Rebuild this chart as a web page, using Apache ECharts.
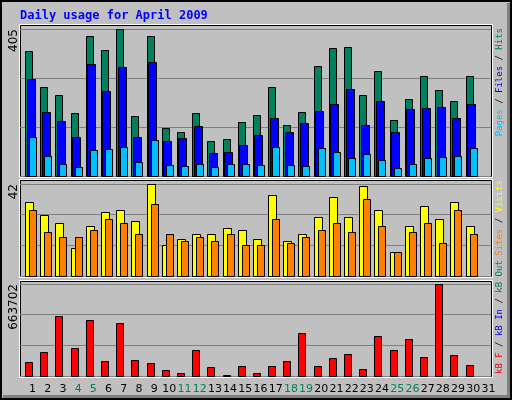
<!DOCTYPE html>
<html><head><meta charset="utf-8">
<script src="https://cdn.jsdelivr.net/npm/echarts@6/dist/echarts.min.js"></script>
<style>html,body{margin:0;padding:0;background:#C0C0C0}#c{width:512px;height:400px}</style>
</head><body><div id="c"></div>
<script>
const days = Array.from({length:31},(_,i)=>String(i+1));
const weekendDays = ['4','5','11','12','18','19','25','26'];
const hits  = [344,245,223,173,387,347,405,165,387,132,121,173,96,101,148,168,245,140,176,303,353,355,223,289,154,212,275,237,206,275,0];
const files = [267,176,151,107,308,234,300,107,314,96,104,137,63,65,85,112,159,121,145,179,198,239,140,206,121,184,187,190,159,198,0];
const pages = [107,54,32,24,71,74,79,38,98,29,27,32,24,32,32,29,79,29,27,76,65,49,60,43,21,32,49,52,54,76,0];
const visits= [34,28,24,13,23,29,30,25,42,14,17,19,19,22,21,17,37,16,19,27,36,27,41,30,11,23,32,26,34,23,0];
const sites = [30,20,18,18,21,26,24,19,33,19,16,18,16,19,14,14,26,15,18,21,24,20,35,23,11,20,24,15,30,19,0];
const kbF   = [104000,170000,431000,199000,402000,111000,380000,119000,97000,46000,24000,184000,68000,10000,75000,24000,75000,111000,308000,75000,133000,162000,53000,286000,191000,264000,140000,663702,155000,82000,0];
const maxTop=405, maxMid=42, maxBot=663702;

const chart = echarts.init(document.getElementById('c'));
function barSeries(idx,data,color,off,w,z){
  return {type:'custom',xAxisIndex:idx,yAxisIndex:idx,z:z,data:data.map((v,i)=>[i,v]),
    renderItem:(p,api)=>{
      const v=api.value(1); if(!v) return;
      const top=api.coord([api.value(0),v]), base=api.coord([api.value(0),0]);
      const sw=api.size([1,0])[0]; const x0=top[0]-sw/2;
      return {type:'rect',shape:{x:Math.round(x0+off)+0.5,y:Math.round(top[1])+0.5,width:w,height:Math.round(base[1])-Math.round(top[1])},
        style:{fill:color,stroke:'#000',lineWidth:1}};
    }};
}
const grids=[{left:20,right:21,top:29,height:147},{left:20,right:21,top:184,height:92},{left:20,right:21,top:284,height:92}];
const maxes=[maxTop,maxMid,maxBot];
const xAxes=grids.map((g,i)=>({type:'category',gridIndex:i,data:days,boundaryGap:true,
  axisLine:{show:false},axisTick:{show:false},
  axisLabel:i===2?{show:true,interval:0,margin:8,padding:[0,0,0,10],fontFamily:'DejaVu Sans',fontSize:11,
    color:(v)=>weekendDays.includes(v)?'#00805C':'#000'}:{show:false}}));
const yAxes=grids.map((g,i)=>({type:'value',gridIndex:i,min:0,max:maxes[i],interval:maxes[i]/3,
  axisLabel:{show:false},axisLine:{show:false},axisTick:{show:false},
  splitLine:{show:true,lineStyle:{color:'#808080',width:1}}}));
function vtext(x,y,align,parts){
  return {type:'text',x:x,y:y,rotation:Math.PI/2,
    style:{text:parts.map(p=>'{'+p[1]+'|'+p[0]+'}').join(''),align:align,verticalAlign:'middle',
      rich:{r:{fill:'#FF0000'},b:{fill:'#0000FF'},g:{fill:'#00805C'},o:{fill:'#FF8000'},y:{fill:'#FFFF00'},c:{fill:'#00C0FF'},k:{fill:'#000'}},
      font:'9px "DejaVu Sans Mono"'}};
}
function panel(y,h){
  return [{type:'rect',shape:{x:20.5,y:y+0.5,width:471,height:h},style:{fill:'none',stroke:'#000'},z:-1},
          {type:'polyline',shape:{points:[[19.5,y+h+1.5],[19.5,y-0.5],[492.5,y-0.5],[492.5,y+h+1.5],[19.5,y+h+1.5]]},style:{fill:'none',stroke:'#fff'},z:-1}];
}
chart.setOption({
  backgroundColor:'#C0C0C0',animation:false,
  grid:grids,xAxis:xAxes,yAxis:yAxes,
  series:[
    barSeries(0,hits,'#00805C',5,7,1),
    barSeries(0,files,'#0000FF',6.5,8,2),
    barSeries(0,pages,'#00C0FF',9,7,3),
    barSeries(1,visits,'#FFFF00',5,8,1),
    barSeries(1,sites,'#FF8000',9,7,2),
    barSeries(2,kbF,'#FF0000',5,7,1)
  ],
  graphic:[
    {type:'rect',shape:{x:1,y:1,width:510,height:398},style:{fill:'none',stroke:'#000',lineWidth:2},z:10},
    {type:'polyline',shape:{points:[[3,396.5],[508.5,396.5],[508.5,3]]},style:{fill:'none',stroke:'#808080',lineWidth:3},z:10},
    ...panel(25,151),...panel(180,96),...panel(281,95),
    {type:'text',x:20,y:16,style:{text:'Daily usage for April 2009',fill:'#0000FF',font:'bold 12px "DejaVu Sans Mono"',verticalAlign:'middle'}},
    {type:'text',x:14,y:29,rotation:Math.PI/2,style:{text:String(maxTop),fill:'#000',font:'12px "DejaVu Sans"',align:'right',verticalAlign:'middle'}},
    {type:'text',x:14,y:184,rotation:Math.PI/2,style:{text:String(maxMid),fill:'#000',font:'12px "DejaVu Sans"',align:'right',verticalAlign:'middle'}},
    {type:'text',x:14,y:284,rotation:Math.PI/2,style:{text:String(maxBot),fill:'#000',font:'12px "DejaVu Sans"',align:'right',verticalAlign:'middle'}},
    vtext(500,28,'right',[['Pages','c'],[' / ','k'],['Files','b'],[' / ','k'],['Hits','g']]),
    vtext(500,180,'right',[['Sites','o'],[' / ','k'],['Visits','y']]),
    vtext(500,374,'left',[['kB F','r'],[' / ','k'],['kB In','b'],[' / ','k'],['kB Out','g']])
  ]
});
</script></body></html>
